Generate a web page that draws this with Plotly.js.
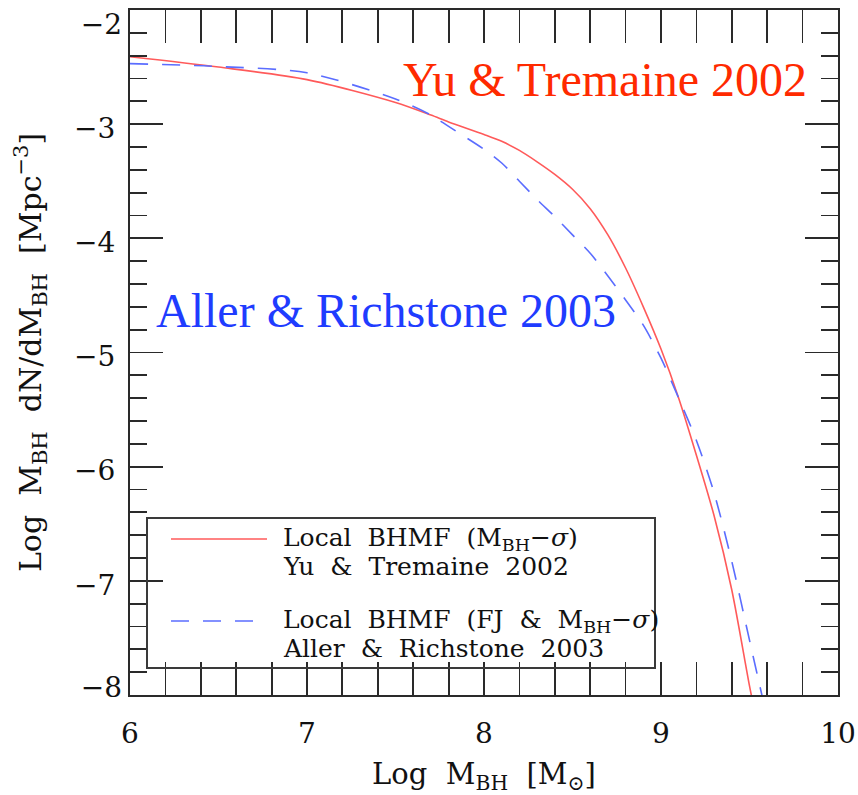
<!DOCTYPE html>
<html>
<head>
<meta charset="utf-8">
<script src="https://cdn.plot.ly/plotly-3.0.1.min.js"></script>
<style>
  html, body { margin: 0; padding: 0; background: #fff; }
  #chart { width: 858px; height: 795px; }
</style>
</head>
<body>
<div id="chart"></div>
<script>
// Local black hole mass function, log M_BH vs log dN/dM_BH
const logMass = [6.0, 6.5, 7.0, 7.5, 7.7, 7.8, 8.0, 8.1, 8.2, 8.3, 8.4, 8.5, 8.6, 8.7, 8.8, 8.9, 9.0, 9.1, 9.2, 9.3, 9.4, 9.5, 9.53];
// Yu & Tremaine 2002 (M_BH - sigma)
const yuTremaine = [-2.41, -2.50, -2.61, -2.81, -2.92, -2.98, -3.09, -3.15, -3.23, -3.33, -3.44, -3.57, -3.74, -3.97, -4.26, -4.60, -4.97, -5.40, -5.90, -6.43, -7.08, -7.92, -8.15];

const logMassAR = [6.0, 6.5, 7.0, 7.5, 7.7, 7.8, 8.0, 8.1, 8.2, 8.3, 8.4, 8.5, 8.6, 8.7, 8.8, 8.9, 9.0, 9.1, 9.2, 9.3, 9.4, 9.5, 9.57, 9.6];
// Aller & Richstone 2003 (FJ & M_BH - sigma)
const allerRichstone = [-2.47, -2.495, -2.55, -2.78, -2.92, -3.02, -3.22, -3.34, -3.50, -3.66, -3.81, -3.97, -4.13, -4.33, -4.54, -4.76, -5.05, -5.40, -5.77, -6.23, -6.83, -7.52, -8.0, -8.2];

const xTicks = [6, 7, 8, 9, 10];
const yTicks = [-8, -7, -6, -5, -4, -3, -2];
const yTickTop = [-2];
const yTickBottom = [-8];

const legendLabels = [
  'Local  BHMF  (M<sub>BH</sub>−<i>σ</i>)',
  'Yu  &  Tremaine  2002',
  'Local  BHMF  (FJ  &  M<sub>BH</sub>−<i>σ</i>)',
  'Aller  &  Richstone  2003'
];

const redLine = '#ff5a5a';
const blueLine = '#5b6dff';
const frame = '#2a2a2a';
const serif = 'DejaVu Serif';
const minusLabel = v => (v < 0 ? '−' : '') + Math.abs(v);

const traces = [
  { x: logMass, y: yuTremaine, type: 'scatter', mode: 'lines',
    line: { color: redLine, width: 1.6, shape: 'spline', smoothing: 0.8 }, showlegend: false },
  { x: logMassAR, y: allerRichstone, type: 'scatter', mode: 'lines',
    line: { color: blueLine, width: 1.6, dash: '18px,14px', shape: 'spline', smoothing: 0.8 }, showlegend: false },
  // carriers for the end-of-range label axes (draw nothing)
  { x: [6], y: [-5], type: 'scatter', mode: 'none', yaxis: 'y2', showlegend: false, hoverinfo: 'skip' },
  { x: [6], y: [-5], type: 'scatter', mode: 'none', yaxis: 'y3', showlegend: false, hoverinfo: 'skip' }
];

// plot area in pixels: x 130..838, y 10..695
const L = 130, R = 838, T = 10, B = 695;
const px = v => (v - L) / (R - L);
const py = v => (B - v) / (B - T);

const axisCommon = {
  showline: true, linecolor: frame, linewidth: 2, mirror: 'allticks',
  ticks: 'inside', ticklen: 33, tickwidth: 1.8, tickcolor: frame,
  showgrid: false, zeroline: false,
  ticklabeloverflow: 'allow',
  tickfont: { family: serif, size: 28, color: '#111' },
  minor: { dtick: 0.2, ticks: 'inside', ticklen: 17, tickwidth: 1.8, tickcolor: frame, showgrid: false }
};

// label-only axes for the -2 and -8 labels, which sit inside the frame
const labelAxis = (vals, shift) => ({
  overlaying: 'y', side: 'left', range: [-8, -2], tickvals: vals,
  ticktext: vals.map(minusLabel),
  showline: false, ticks: '', showgrid: false, zeroline: false,
  ticklabeloverflow: 'allow', ticklabelstandoff: 7, ticklabelshift: shift,
  tickfont: { family: serif, size: 28, color: '#111' }
});

const layout = {
  width: 858, height: 795,
  margin: { l: L, r: 858 - R, t: T, b: 795 - B },
  paper_bgcolor: '#fff', plot_bgcolor: '#fff',
  showlegend: false,
  xaxis: Object.assign({}, axisCommon, {
    range: [6, 10], tickvals: xTicks, ticktext: xTicks.map(String),
    ticklabelstandoff: 12,
    title: { text: 'Log  M<sub>BH</sub>  [M<sub>⊙</sub>]', font: { family: serif, size: 29, color: '#111' }, standoff: 16 }
  }),
  yaxis: Object.assign({}, axisCommon, {
    range: [-8, -2], tickvals: yTicks,
    ticktext: yTicks.map(v => (v === -8 || v === -2) ? '' : minusLabel(v)),
    ticklabelstandoff: 7, ticklabelshift: 4,
    title: { text: 'Log  M<sub>BH</sub>  dN/dM<sub>BH</sub>  [Mpc<sup>−3</sup>]', font: { family: serif, size: 30, color: '#111' }, standoff: 24 }
  }),
  yaxis2: labelAxis(yTickTop, 14),
  yaxis3: labelAxis(yTickBottom, -8),
  shapes: [
    { type: 'rect', xref: 'paper', yref: 'paper', x0: px(147), x1: px(655), y0: py(668), y1: py(518),
      line: { color: '#3a3a3a', width: 2 }, fillcolor: 'rgba(255,255,255,0)', layer: 'above' },
    { type: 'line', xref: 'paper', yref: 'paper', x0: px(171), x1: px(267), y0: py(539), y1: py(539),
      line: { color: redLine, width: 1.6 } },
    { type: 'line', xref: 'paper', yref: 'paper', x0: px(171), x1: px(267), y0: py(621), y1: py(621),
      line: { color: blueLine, width: 1.6, dash: '18px,14px' } }
  ],
  annotations: [
    { xref: 'paper', yref: 'paper', x: px(401), y: py(79), xanchor: 'left', yanchor: 'middle', showarrow: false,
      text: 'Yu & Tremaine 2002', font: { family: 'Liberation Serif', size: 48, color: '#ff2a00' } },
    { xref: 'paper', yref: 'paper', x: px(154), y: py(310), xanchor: 'left', yanchor: 'middle', showarrow: false,
      text: 'Aller & Richstone 2003', font: { family: 'Liberation Serif', size: 48, color: '#1f3cff' } }
  ].concat(legendLabels.map((t, i) => ({
    xref: 'paper', yref: 'paper', x: px(281), y: py([539, 566, 621, 648][i]),
    xanchor: 'left', yanchor: 'middle', showarrow: false,
    text: t, font: { family: serif, size: 25, color: '#111' }
  })))
};

Plotly.newPlot('chart', traces, layout, { staticPlot: true });
</script>
</body>
</html>
